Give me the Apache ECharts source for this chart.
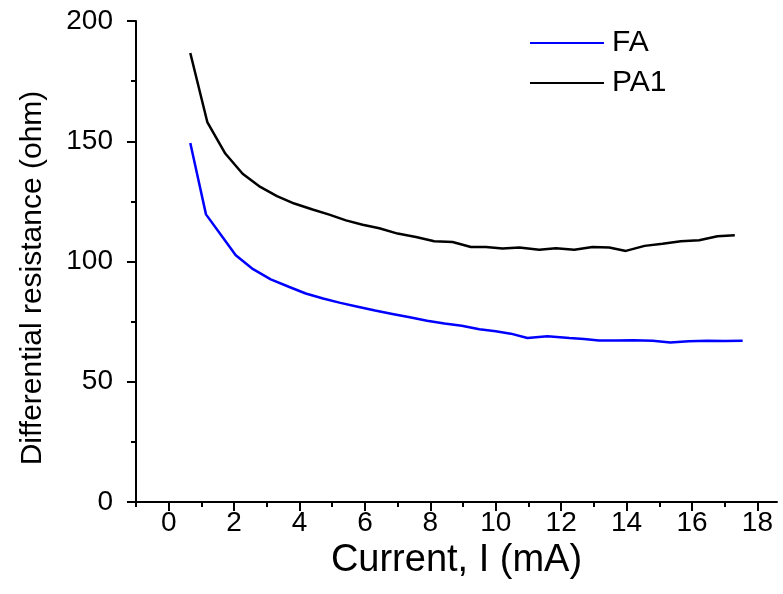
<!DOCTYPE html>
<html>
<head>
<meta charset="utf-8">
<script src="https://cdn.jsdelivr.net/npm/echarts@6/dist/echarts.min.js"></script>
<style>
  html, body { margin: 0; padding: 0; background: #fff; }
  #chart { width: 783px; height: 594px; }
</style>
</head>
<body>
<div id="chart"></div>
<script>
// Differential resistance vs. drive current for two devices
const faCurrent = [0.66, 1.14, 1.60, 2.05, 2.58, 3.12, 3.69, 4.19, 4.72, 5.25, 5.78, 6.31, 6.84, 7.37, 7.90, 8.43, 8.96, 9.50, 10.00, 10.46, 10.97, 11.58, 12.25, 12.70, 13.16, 13.70, 14.20, 14.80, 15.34, 15.90, 16.47, 17.00, 17.55];
const faResistance = [149.3, 119.6, 111.0, 102.6, 96.8, 92.6, 89.4, 86.7, 84.6, 82.8, 81.2, 79.6, 78.2, 76.8, 75.4, 74.2, 73.3, 71.8, 71.0, 70.0, 68.2, 68.9, 68.2, 67.8, 67.2, 67.2, 67.3, 67.0, 66.3, 66.8, 67.0, 66.9, 67.0];

const pa1Current = [0.66, 1.18, 1.73, 2.26, 2.80, 3.31, 3.84, 4.40, 4.91, 5.42, 5.93, 6.44, 7.00, 7.56, 8.12, 8.68, 9.24, 9.70, 10.21, 10.72, 11.33, 11.84, 12.40, 12.96, 13.47, 13.98, 14.55, 15.10, 15.66, 16.22, 16.78, 17.31];
const pa1Resistance = [186.7, 158.0, 144.9, 136.5, 131.0, 127.2, 124.1, 121.6, 119.5, 117.1, 115.3, 113.8, 111.6, 110.2, 108.4, 108.1, 106.0, 106.0, 105.4, 105.8, 104.9, 105.5, 104.9, 106.0, 105.8, 104.4, 106.5, 107.4, 108.4, 108.8, 110.5, 110.9];

const xMajorTicks = [0, 2, 4, 6, 8, 10, 12, 14, 16, 18];
const xMinorTicks = [-1, 1, 3, 5, 7, 9, 11, 13, 15, 17];

const FONT = 'Liberation Sans, Arial, sans-serif';
const pairs = (xs, ys) => xs.map((x, i) => [x, ys[i]]);

const chart = echarts.init(document.getElementById('chart'), null, { renderer: 'canvas' });

const xMin = -1, xMax = 18.6;
const AXIS_W = 2;

chart.setOption({
  animation: false,
  backgroundColor: '#ffffff',
  grid: { left: 136, right: 6, top: 21, bottom: 92, containLabel: false },
  legend: {
    orient: 'vertical',
    left: 530,
    top: 28,
    padding: 0,
    icon: 'rect',
    itemWidth: 74,
    itemHeight: 2,
    itemGap: 10,
    textStyle: { fontFamily: FONT, fontSize: 30, color: '#000', lineHeight: 29, padding: [0, 0, 0, 3] },
    data: ['FA', 'PA1']
  },
  xAxis: [
    {
      type: 'value',
      min: xMin,
      max: xMax,
      name: 'Current, I (mA)',
      nameLocation: 'middle',
      nameGap: 40,
      nameTextStyle: { fontFamily: FONT, fontSize: 38, color: '#000' },
      axisLine: { onZero: false, lineStyle: { color: '#000', width: AXIS_W } },
      axisTick: { show: true, inside: false, length: 9, customValues: xMajorTicks, lineStyle: { color: '#000', width: AXIS_W } },
      axisLabel: { customValues: xMajorTicks, fontFamily: FONT, fontSize: 28, color: '#000', margin: 7 },
      splitLine: { show: false }
    },
    {
      type: 'value',
      min: xMin,
      max: xMax,
      position: 'bottom',
      axisLine: { show: false, onZero: false },
      axisTick: { show: true, inside: false, length: 5, customValues: xMinorTicks, lineStyle: { color: '#000', width: AXIS_W } },
      axisLabel: { show: false },
      splitLine: { show: false }
    }
  ],
  yAxis: {
    type: 'value',
    min: 0,
    max: 200,
    interval: 50,
    axisLine: { show: true, onZero: false, lineStyle: { color: '#000', width: AXIS_W } },
    axisTick: { show: true, inside: false, length: 9, lineStyle: { color: '#000', width: AXIS_W } },
    minorTick: { show: true, splitNumber: 2, length: 5, lineStyle: { color: '#000', width: AXIS_W } },
    axisLabel: { fontFamily: FONT, fontSize: 28, color: '#000', margin: 23 },
    splitLine: { show: false }
  },
  graphic: [{
    type: 'text',
    rotation: Math.PI / 2,
    x: 33,
    y: 278,
    style: {
      text: 'Differential resistance (ohm)',
      font: '30px ' + FONT,
      fill: '#000',
      align: 'center',
      verticalAlign: 'middle'
    }
  }],
  series: [
    {
      name: 'FA',
      type: 'line',
      xAxisIndex: 0,
      data: pairs(faCurrent, faResistance),
      showSymbol: false,
      symbol: 'none',
      lineStyle: { color: '#0000ff', width: 2.5 },
      itemStyle: { color: '#0000ff' }
    },
    {
      name: 'PA1',
      type: 'line',
      xAxisIndex: 0,
      data: pairs(pa1Current, pa1Resistance),
      showSymbol: false,
      symbol: 'none',
      lineStyle: { color: '#000000', width: 2.5 },
      itemStyle: { color: '#000000' }
    }
  ]
});
</script>
</body>
</html>
